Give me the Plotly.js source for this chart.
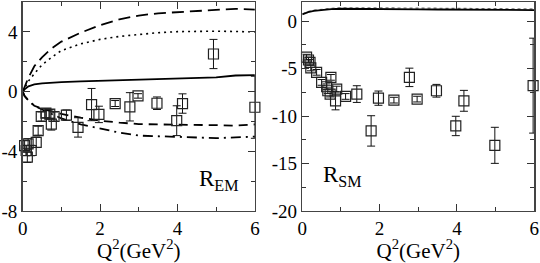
<!DOCTYPE html>
<html><head><meta charset="utf-8">
<script src="https://cdn.plot.ly/plotly-3.0.1.min.js"></script>
<style>body{margin:0;background:#fff}#c{width:540px;height:263px}</style>
</head><body><div id="c"></div>
<script>
// ---- Left panel (R_EM) theory curves ----
const qGrid = [0,0.05,0.15,0.3,0.5,0.75,1,1.5,2,2.5,3,3.5,4,4.5,5,5.5,6];
const emLongDash = [0,0.35,0.95,1.7,2.3,2.9,3.35,3.95,4.45,4.85,5.1,5.25,5.32,5.38,5.45,5.55,5.5];
const emDotted   = [0,0.25,0.7,1.2,1.8,2.3,2.75,3.2,3.5,3.7,3.85,3.95,4.02,4.05,4.05,4.03,4.0];
const emSolid    = [0,0.15,0.35,0.48,0.55,0.6,0.63,0.68,0.72,0.78,0.84,0.88,0.91,0.93,0.95,1.08,1.1];
const emDashed   = [0,-0.3,-0.6,-0.95,-1.15,-1.35,-1.5,-1.75,-1.95,-2.08,-2.18,-2.2,-2.2,-2.22,-2.25,-2.28,-2.2];
const emDashDot  = [0,-0.3,-0.6,-0.95,-1.2,-1.5,-1.8,-2.2,-2.5,-2.75,-2.95,-3.0,-3.02,-3.05,-3.12,-3.07,-3.02];

// ---- Left panel data ----
const emQ   = [0.05,0.09,0.12,0.14,0.22,0.35,0.40,0.48,0.60,0.70,0.74,0.81,1.13,1.43,1.78,1.97,2.39,2.77,2.98,3.47,3.98,4.13,4.93,6.0];
const emR   = [-3.62,-3.95,-4.4,-3.51,-3.95,-3.4,-2.62,-1.67,-1.45,-1.51,-2.18,-1.67,-1.58,-2.4,-0.87,-1.53,-0.8,-1.02,-0.29,-0.78,-1.95,-0.8,2.52,-1.05];
const emErr = [0.35,0.35,0.35,0.35,0.35,0.35,0.3,0.3,0.3,0.3,0.4,0.3,0.35,0.65,1.08,0.55,0.2,0.95,0.15,0.42,1.0,0.65,0.98,2.08];

// ---- Right panel (R_SM) theory curves ----
const smSolid  = [0,0.05,0.15,0.3,0.5,0.75,1,1.5,2,2.5,3,3.5,4,4.5,5,5.5,6];
const smSolidY = [0.7,0.8,0.95,1.08,1.18,1.25,1.3,1.3,1.28,1.26,1.24,1.22,1.2,1.2,1.18,1.18,1.16];
const smDotY   = [0.75,0.85,1.0,1.15,1.27,1.35,1.4,1.42,1.4,1.38,1.37,1.35,1.33,1.32,1.3,1.3,1.28];

// ---- Right panel data ----
const smQ   = [0.11,0.16,0.20,0.22,0.37,0.50,0.63,0.66,0.72,0.74,0.86,0.89,1.12,1.41,1.78,1.97,2.37,2.77,2.97,3.47,3.97,4.18,4.98,5.97];
const smR   = [-3.8,-4.1,-4.34,-4.94,-5.4,-6.46,-6.92,-7.34,-7.69,-5.93,-8.4,-7.16,-7.94,-7.69,-11.57,-8.12,-8.33,-5.93,-8.22,-7.34,-11.05,-8.4,-13.09,-6.8];
const smErr = [0.3,0.3,0.3,0.3,0.3,0.3,0.3,0.3,0.3,0.3,0.95,0.3,0.3,0.88,1.6,0.75,0.3,0.97,0.3,0.67,1.02,1.1,1.9,5.0];

const emTicks = [-8,-4,0,4], emTickText = ["-8","-4","0","4"];
const smTicks = [-20,-15,-10,-5,0], smTickText = ["-20","-15","-10","-5","0"];
const xTicks = [0,2,4,6], xTickText = ["0","2","4","6"];

const serif = "Liberation Serif";
const lineBlack = (x,y,xa,ya,dash,w,color)=>({x:x,y:y,xaxis:xa,yaxis:ya,type:'scatter',mode:'lines',
  line:{color:color||'#000',width:w||1.6,dash:dash||'solid'},hoverinfo:'skip',showlegend:false});
const pts = (x,y,e,xa,ya)=>({x:x,y:y,xaxis:xa,yaxis:ya,type:'scatter',mode:'markers',showlegend:false,
  marker:{symbol:'square-open',size:10,color:'#222',line:{width:1.2,color:'#222'}},
  error_y:{type:'data',array:e,visible:true,color:'#111',thickness:1,width:4},cliponaxis:false});

const data = [
  lineBlack(qGrid,emLongDash,'x','y','12px,6px',1.8),
  lineBlack(qGrid,emDotted,'x','y','2px,4px',1.6),
  lineBlack(qGrid,emSolid,'x','y','solid',1.8),
  lineBlack(qGrid,emDashed,'x','y','9px,6px',1.8),
  lineBlack(qGrid,emDashDot,'x','y','10px,5px,2px,5px',1.8),
  pts(emQ,emR,emErr,'x','y'),
  lineBlack(smSolid,smDotY,'x2','y2','3px,3px',1.2,'#777'),
  lineBlack(smSolid,smSolidY,'x2','y2','solid',1.8),
  pts(smQ,smR,smErr,'x2','y2')
];

const axisBase = {showgrid:false,zeroline:false,ticks:'inside',ticklen:7,tickwidth:1,tickcolor:'#333',
  showline:true,linecolor:'#444',linewidth:1.5,mirror:'allticks',automargin:false,
  tickfont:{family:serif,size:19,color:'#000'}};
const xTitle = {text:'Q<sup>2</sup>(GeV<sup>2</sup>)',font:{family:serif,size:21,color:'#000'},standoff:1};

const layout = {
  width:540,height:263,margin:{l:0,r:0,t:0,b:0},
  font:{family:serif},
  paper_bgcolor:'#fff',plot_bgcolor:'#fff',showlegend:false,
  xaxis:Object.assign({},axisBase,{domain:[0.042,0.472],range:[0,6],tickvals:xTicks,ticktext:xTickText,
    minor:{dtick:1,ticklen:4,tickcolor:'#333',ticks:'inside'},title:xTitle,anchor:'y'}),
  yaxis:Object.assign({},axisBase,{domain:[0.198,0.992],range:[-8,6],tickvals:emTicks,ticktext:emTickText,
    minor:{dtick:2,ticklen:4,tickcolor:'#333',ticks:'inside'},anchor:'x'}),
  xaxis2:Object.assign({},axisBase,{domain:[0.5598,0.9894],range:[0,6],tickvals:xTicks,ticktext:xTickText,
    minor:{dtick:1,ticklen:4,tickcolor:'#333',ticks:'inside'},title:xTitle,anchor:'y2'}),
  yaxis2:Object.assign({},axisBase,{domain:[0.198,0.992],range:[-20,2],tickvals:smTicks,ticktext:smTickText,
    minor:{tick0:0,dtick:2.5,ticklen:4,tickcolor:'#333',ticks:'inside'},anchor:'x2'}),
  annotations:[
    {text:'R<sub>EM</sub>',xref:'x',yref:'y',x:5.05,y:-5.9,showarrow:false,xanchor:'center',yanchor:'middle',
     font:{family:serif,size:23,color:'#000'}},
    {text:'R<sub>SM</sub>',xref:'x2',yref:'y2',x:1.05,y:-16.3,showarrow:false,xanchor:'center',yanchor:'middle',
     font:{family:serif,size:23,color:'#000'}}
  ]
};
Plotly.newPlot('c',data,layout,{staticPlot:true,displayModeBar:false});
</script></body></html>
